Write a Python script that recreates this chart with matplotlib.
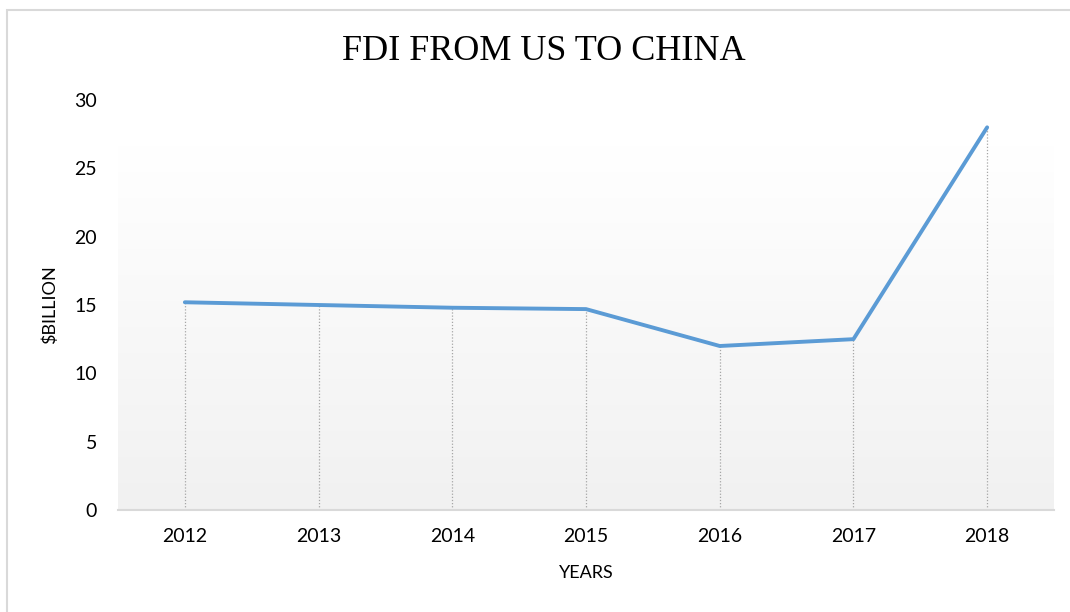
import numpy as np
import matplotlib.pyplot as plt
from matplotlib.patches import Rectangle

years = ['2012', '2013', '2014', '2015', '2016', '2017', '2018']
fdi = [15.2, 15.0, 14.8, 14.7, 12.0, 12.5, 28.0]
y_ticks = [0, 5, 10, 15, 20, 25, 30]

fig = plt.figure(figsize=(10.7, 6.12), dpi=100)
ax = fig.add_axes([118/1070, 102/612, 936/1070, 410/612])
ax.patch.set_alpha(0)

# outer chart border (right and bottom edges fall outside the image)
fig.patches.append(Rectangle((7/1070, -10/612), 1080/1070, 612/612, transform=fig.transFigure,
                             fill=False, edgecolor='#d9d9d9', linewidth=1.5))

x = np.arange(len(years))

# plot-area gradient (white at top -> light gray at bottom)
grad = np.linspace(1.0, 0.0, 256).reshape(-1, 1)
top_c = np.array([1.0, 1.0, 1.0])
bot_c = np.array([0.945, 0.945, 0.945])
img = top_c * (1 - grad[..., None]) + bot_c * grad[..., None]
img = img[::-1]
ax.imshow(img, extent=[0, 1, 0, 365/410], transform=ax.transAxes, aspect='auto', zorder=0)

ax.vlines(x, 0, fdi, colors='#a6a6a6', linestyles=(0, (1, 1.5)), linewidth=0.9, zorder=1)
ax.plot(x, fdi, color='#5b9bd5', linewidth=2.8, solid_capstyle='round', solid_joinstyle='round', zorder=2)

ax.set_xlim(-0.5, len(years) - 0.5)
ax.set_ylim(0, 30)
ax.set_xticks(x)
ax.set_xticklabels(years)
ax.set_yticks(y_ticks)

for s in ['top', 'right', 'left']:
    ax.spines[s].set_visible(False)
ax.spines['bottom'].set_color('#d9d9d9')
ax.spines['bottom'].set_linewidth(1.5)
ax.tick_params(length=0, labelsize=14, colors='#000000')
ax.tick_params(axis='y', pad=15)
ax.tick_params(axis='x', pad=13)
for lab in ax.get_xticklabels() + ax.get_yticklabels():
    lab.set_family('Lato')

ax.set_xlabel('YEARS', fontsize=13, family='Lato', labelpad=14)
ax.set_ylabel('$BILLION', fontsize=13, family='Lato', labelpad=12)

fig.text(544/1070, 1 - 51/612, 'FDI FROM US TO CHINA', ha='center', va='center',
         fontsize=26, family='Liberation Serif')

fig.savefig('out.png', dpi=100)
